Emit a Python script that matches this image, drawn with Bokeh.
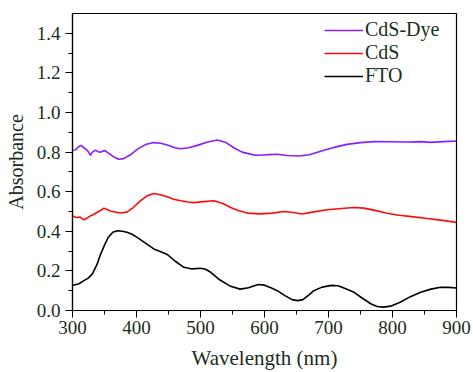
from bokeh.plotting import figure
from bokeh.models import SingleIntervalTicker, PrintfTickFormatter, Range1d
from bokeh.embed import file_html
from bokeh.resources import INLINE

# ---------------- data ----------------
fto_nm = [300, 310, 318, 325, 331, 338, 344, 350, 356, 363, 370, 378, 385, 393, 401, 414, 427, 438,
          448, 460, 474, 487, 500, 508, 516, 530, 547, 562, 575, 590, 600, 610, 620, 632, 643, 652,
          660, 670, 677, 690, 705, 715, 727, 740, 753, 766, 776, 786, 797, 812, 828, 844, 860, 875,
          888, 900]
fto_abs = [0.126, 0.135, 0.151, 0.165, 0.185, 0.230, 0.285, 0.330, 0.370, 0.395, 0.403, 0.400, 0.395,
           0.385, 0.369, 0.340, 0.311, 0.297, 0.283, 0.250, 0.218, 0.210, 0.213, 0.208, 0.193, 0.155,
           0.122, 0.108, 0.115, 0.131, 0.128, 0.115, 0.100, 0.075, 0.055, 0.050, 0.055, 0.080, 0.100,
           0.118, 0.127, 0.125, 0.110, 0.092, 0.062, 0.034, 0.020, 0.017, 0.022, 0.042, 0.070, 0.092,
           0.108, 0.117, 0.117, 0.114]

cds_nm = [300, 304, 307, 312, 318, 322, 328, 333, 338, 344, 349, 354, 359, 367, 375, 385, 395, 406,
          417, 427, 437, 448, 458, 469, 480, 490, 505, 521, 535, 547, 560, 573, 594, 612, 630, 645,
          659, 675, 698, 720, 740, 755, 771, 790, 807, 830, 854, 878, 900]
cds_abs = [0.478, 0.472, 0.470, 0.472, 0.458, 0.465, 0.478, 0.485, 0.495, 0.505, 0.517, 0.510, 0.503,
           0.497, 0.492, 0.497, 0.520, 0.554, 0.580, 0.591, 0.585, 0.574, 0.562, 0.554, 0.548, 0.545,
           0.550, 0.554, 0.540, 0.520, 0.504, 0.492, 0.488, 0.492, 0.500, 0.495, 0.487, 0.497, 0.509,
           0.515, 0.520, 0.517, 0.507, 0.492, 0.482, 0.474, 0.465, 0.455, 0.445]

dye_nm = [300, 305, 309, 313, 318, 323, 326, 328, 331, 336, 340, 344, 348, 351, 355, 359, 365, 372,
          380, 390, 401, 414, 427, 438, 448, 460, 469, 482, 495, 510, 526, 540, 552, 565, 583, 591,
          605, 620, 635, 654, 670, 693, 710, 729, 750, 771, 800, 823, 845, 859, 880, 900]
dye_abs = [0.809, 0.812, 0.826, 0.834, 0.822, 0.810, 0.795, 0.784, 0.800, 0.810, 0.802, 0.800, 0.806,
           0.807, 0.797, 0.789, 0.775, 0.764, 0.767, 0.785, 0.814, 0.838, 0.848, 0.845, 0.836, 0.822,
           0.817, 0.822, 0.834, 0.850, 0.861, 0.848, 0.822, 0.800, 0.786, 0.784, 0.787, 0.789, 0.783,
           0.780, 0.787, 0.809, 0.825, 0.839, 0.848, 0.853, 0.852, 0.851, 0.853, 0.849, 0.853, 0.856]

series_names = ["CdS-Dye", "CdS", "FTO"]
x_label = "Wavelength (nm)"
y_label = "Absorbance"

# ---------------- styling ----------------
FONT = "Liberation Serif"
TXT = "#1b2e1b"
W, H = 473, 372
FL, FR, FT, FB = 72, 456, 13, 310   # frame edges in figure px

p = figure(width=W, height=H, output_backend="svg", toolbar_location=None,
           x_range=Range1d(300, 900), y_range=Range1d(0, 1.5),
           min_border_left=FL, min_border_right=W - FR,
           min_border_top=FT, min_border_bottom=H - FB)
p.background_fill_color = "white"
p.border_fill_color = "white"
p.outline_line_color = "black"
p.outline_line_width = 1.2
p.xgrid.visible = False
p.ygrid.visible = False

p.line(dye_nm, dye_abs, color="#8a1cff", line_width=1.6, legend_label=series_names[0])
p.line(cds_nm, cds_abs, color="#ff0a0a", line_width=1.6, legend_label=series_names[1])
p.line(fto_nm, fto_abs, color="black", line_width=1.6, legend_label=series_names[2])

p.xaxis.ticker = SingleIntervalTicker(interval=100, num_minor_ticks=2)
p.yaxis.ticker = SingleIntervalTicker(interval=0.2, num_minor_ticks=2)
p.yaxis.formatter = PrintfTickFormatter(format="%.1f")

for ax in (p.xaxis[0], p.yaxis[0]):
    ax.axis_line_width = 1.2
    ax.axis_line_color = "black"
    ax.major_tick_in = 0
    ax.major_tick_out = 7
    ax.minor_tick_in = 0
    ax.minor_tick_out = 4
    ax.major_tick_line_color = "black"
    ax.minor_tick_line_color = "black"
    ax.major_tick_line_width = 1
    ax.minor_tick_line_width = 1
    ax.major_label_text_font = FONT
    ax.major_label_text_font_size = "19px"
    ax.major_label_text_color = TXT
    ax.axis_label_text_font = FONT
    ax.axis_label_text_font_style = "normal"
    ax.axis_label_text_color = TXT

p.xaxis.major_label_standoff = 3
p.xaxis.axis_label = x_label
p.xaxis.axis_label_text_font_size = "21px"
p.xaxis.axis_label_standoff = 9

p.yaxis.major_label_standoff = 5
p.yaxis.axis_label = y_label
p.yaxis.axis_label_text_font_size = "20px"
p.yaxis.axis_label_standoff = 7

lg = p.legend[0]
lg.location = (252, 223)
lg.border_line_color = None
lg.background_fill_alpha = 0
lg.padding = 0
lg.margin = 0
lg.spacing = 0
lg.glyph_width = 39
lg.glyph_height = 20
lg.label_height = 20
lg.label_standoff = 2
lg.label_text_font = FONT
lg.label_text_font_size = "20px"
lg.label_text_color = TXT

open("out.html", "w").write(file_html(p, INLINE))
